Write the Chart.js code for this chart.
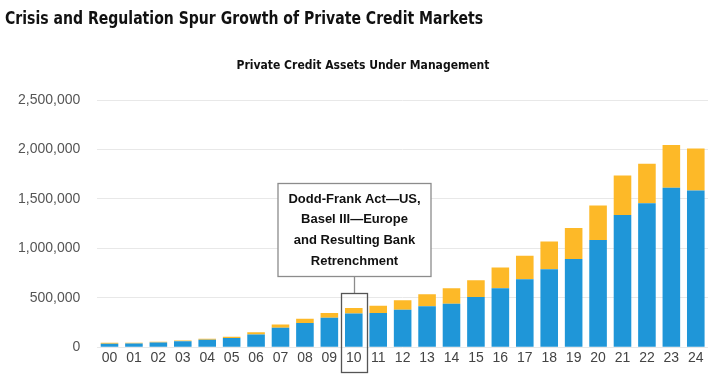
<!DOCTYPE html>
<html>
<head>
<meta charset="utf-8">
<script src="https://cdn.jsdelivr.net/npm/chart.js@4/dist/chart.umd.min.js"></script>
<style>
  html, body { margin: 0; padding: 0; background: #ffffff; }
  #wrap { width: 720px; height: 384px; position: relative; }
</style>
</head>
<body>
<div id="wrap"><canvas id="c" width="720" height="384"></canvas></div>
<script>
const categories = ["00","01","02","03","04","05","06","07","08","09","10","11","12","13","14","15","16","17","18","19","20","21","22","23","24"];
const blueValues = [36000, 37000, 48000, 60000, 76000, 92000, 128000, 196000, 246000, 298000, 342000, 345000, 378000, 413000, 440000, 508000, 596000, 686000, 789000, 891000, 1084000, 1338000, 1456000, 1612000, 1585000];
const yellowValues = [8000, 8000, 6000, 8000, 9000, 13000, 24000, 34000, 41000, 47000, 54000, 75000, 96000, 122000, 156000, 169000, 210000, 239000, 281000, 315000, 348000, 399000, 400000, 433000, 424000];
const yTicks = [0, 500000, 1000000, 1500000, 2000000, 2500000];
const titleText = 'Crisis and Regulation Spur Growth of Private Credit Markets';
const subtitleText = 'Private Credit Assets Under Management';
const annotationCategory = "10";
const annotationLines = ["Dodd-Frank Act\u2014US,", "Basel III\u2014Europe", "and Resulting Bank", "Retrenchment"];

function fitText(ctx, text, x, y, targetW, align) {
  const w = ctx.measureText(text).width;
  const s = targetW / w;
  ctx.save();
  ctx.translate(x, y);
  ctx.scale(s, 1);
  ctx.textAlign = align;
  ctx.fillText(text, 0, 0);
  ctx.restore();
}

const titlePlugin = {
  id: 'titles',
  beforeDraw(chart) {
    const ctx = chart.ctx;
    ctx.save();
    ctx.fillStyle = '#111111';
    ctx.textBaseline = 'middle';
    ctx.font = 'bold 18px "DejaVu Sans Condensed", "DejaVu Sans", sans-serif';
    fitText(ctx, titleText, 5, 19, 478, 'left');
    ctx.font = 'bold 13px "DejaVu Sans Condensed", "DejaVu Sans", sans-serif';
    fitText(ctx, subtitleText, 363, 66, 253, 'center');
    ctx.restore();
  }
};

const annotationPlugin = {
  id: 'annot',
  afterDatasetsDraw(chart) {
    const ctx = chart.ctx;
    const xs = chart.scales.x, ys = chart.scales.y;
    const cx = Math.round(xs.getPixelForValue(categories.indexOf(annotationCategory))) + 0.5;
    const boxW = 153;
    const boxTop = Math.round(ys.getPixelForValue(1665000)) + 0.5;
    const boxBot = Math.round(ys.getPixelForValue(721000)) + 0.5;
    const smallTop = Math.round(ys.getPixelForValue(548000)) + 0.5;
    const base = ys.getPixelForValue(0);
    const smallBot = Math.round(base + 25) + 0.5;
    ctx.save();
    ctx.strokeStyle = '#8c8c8c';
    ctx.lineWidth = 1.3;
    ctx.fillStyle = '#ffffff';
    ctx.fillRect(cx - boxW / 2, boxTop, boxW, boxBot - boxTop);
    ctx.strokeRect(cx - boxW / 2, boxTop, boxW, boxBot - boxTop);
    ctx.beginPath();
    ctx.moveTo(cx, boxBot);
    ctx.lineTo(cx, smallTop);
    ctx.stroke();
    ctx.strokeStyle = '#555555';
    ctx.strokeRect(cx - 13, smallTop, 26, smallBot - smallTop);
    ctx.fillStyle = '#111111';
    ctx.font = 'bold 13px "Liberation Sans", Arial, sans-serif';
    ctx.textAlign = 'center';
    ctx.textBaseline = 'middle';
    const lh = 20.7;
    const firstY = boxTop + 15.5;
    annotationLines.forEach((t, i) => ctx.fillText(t, cx, firstY + i * lh));
    ctx.restore();
  }
};

new Chart(document.getElementById('c'), {
  type: 'bar',
  data: {
    labels: categories,
    datasets: [
      { label: 'Banks retrenchment', data: blueValues, backgroundColor: '#1f96d8', borderWidth: 0 },
      { label: 'Other', data: yellowValues, backgroundColor: '#fdb928', borderWidth: 0 }
    ]
  },
  options: {
    responsive: false,
    animation: false,
    layout: { padding: { left: 1, right: 12, top: 100, bottom: 14 } },
    plugins: {
      legend: { display: false },
      tooltip: { enabled: false },
      title: { display: false },
      subtitle: { display: false }
    },
    scales: {
      x: {
        stacked: true,
        categoryPercentage: 1.0,
        barPercentage: 0.56,
        grid: { display: false, drawTicks: false },
        border: { display: false },
        ticks: { color: '#444444', font: { family: '"Liberation Sans", Arial, sans-serif', size: 14 }, padding: 3, maxRotation: 0, autoSkip: false }
      },
      y: {
        stacked: true,
        min: 0,
        max: 2500000,
        afterBuildTicks(axis) { axis.ticks = yTicks.map(v => ({ value: v })); },
        grid: { color: '#e8e8e8', lineWidth: 1, drawTicks: false },
        border: { display: false },
        ticks: {
          color: '#555555',
          padding: 17,
          font: { family: '"Liberation Sans", Arial, sans-serif', size: 14 },
          callback: v => Number(v).toLocaleString('en-US')
        }
      }
    }
  },
  plugins: [titlePlugin, annotationPlugin]
});
</script>
</body>
</html>
